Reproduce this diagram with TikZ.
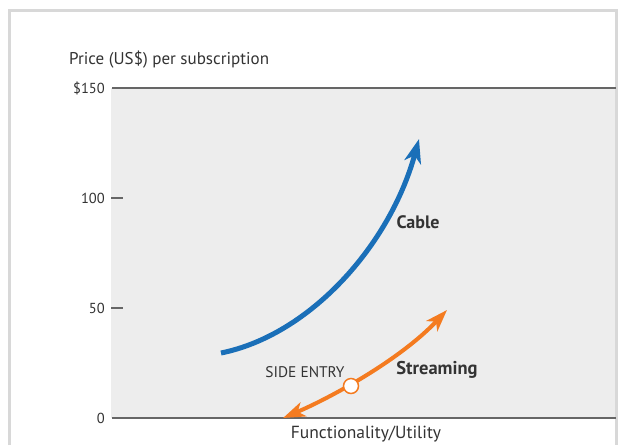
\documentclass[tikz,border=0pt]{standalone}
\usepackage{fontspec}
\setmainfont{PT Sans}
\usetikzlibrary{arrows.meta}
\definecolor{bgfill}{HTML}{EDEDED}
\definecolor{axisgray}{HTML}{666666}
\definecolor{framegray}{HTML}{D8D8D8}
\definecolor{cableblue}{HTML}{1A6FB8}
\definecolor{streamorange}{HTML}{F47B20}
\definecolor{txt}{HTML}{333333}
\tikzset{
  axisline/.style={draw=axisgray, line width=2.5pt},
  ticklabel/.style={anchor=east, text=txt, font=\fontsize{14.5}{16}\selectfont, inner sep=0pt},
  boldlabel/.style={text=txt, font=\fontsize{18}{20}\selectfont\bfseries, inner sep=0pt},
  curve/.style={line width=5pt},
  tipstyle/.style={-{Stealth[length=24pt,width=17pt,inset=7pt]}},
}
\begin{document}
\begin{tikzpicture}[x=1pt,y=-1pt]
\useasboundingbox (0,0) rectangle (620,445);
\fill[white] (0,0) rectangle (620,445);
% frame
\draw[framegray, line width=3pt] (9.5,445) -- (9.5,10.5) -- (616.5,10.5) -- (616.5,445);
% plot area
\fill[bgfill] (111,88) rectangle (615,418);
% axis lines
\coordinate (top0) at (112,88);
\coordinate (top1) at (616,88);
\coordinate (bot0) at (112,418);
\coordinate (bot1) at (616,418);
\draw[axisline] (top0) -- (top1);
\draw[axisline] (bot0) -- (bot1);
\coordinate (t100a) at (111,198);
\coordinate (t100b) at (123,198);
\coordinate (t50a) at (111,308);
\coordinate (t50b) at (123,308);
\draw[axisline, line width=1.8pt] (t100a) -- (t100b);
\draw[axisline, line width=1.8pt] (t50a) -- (t50b);
% labels
\node[anchor=west, text=txt, font=\fontsize{17}{19}\selectfont, inner sep=0pt] (ylab) at (69,60) {Price (US\$) per subscription};
\node[ticklabel] (l150) at (105,88) {\$150};
\node[ticklabel] (l100) at (105,198) {100};
\node[ticklabel] (l50) at (105,308) {50};
\node[ticklabel] (l0) at (105,418) {0};
\node[text=txt, font=\fontsize{17.5}{19}\selectfont, inner sep=0pt] (xlab) at (366,434) {Functionality/Utility};
% cable curve
\coordinate (c0) at (221,353);
\coordinate (c1) at (419,139);
\draw[cableblue, curve, tipstyle] (c0) .. controls (310,335) and (390,245) .. (c1);
\node[boldlabel] (cable) at (418,222) {Cable};
% streaming curve
\coordinate (s0) at (283,418);
\coordinate (s1) at (447,310);
\draw[streamorange, line width=4pt, {Stealth[length=22pt,width=15pt,inset=6pt]}-{Stealth[length=22pt,width=15pt,inset=6pt]}] (s0) .. controls (330,398) and (400,360) .. (s1);
\node[circle, draw=streamorange, fill=white, line width=1.5pt, minimum size=15pt, inner sep=0pt] (side) at (351,386) {};
\node[text=txt, font=\fontsize{15.4}{17}\selectfont, inner sep=0pt] (sidelab) at (305,372) {SIDE ENTRY};
\node[boldlabel, font=\fontsize{18.5}{20}\selectfont\bfseries] (stream) at (437,370) {Streaming};
\end{tikzpicture}
\end{document}
